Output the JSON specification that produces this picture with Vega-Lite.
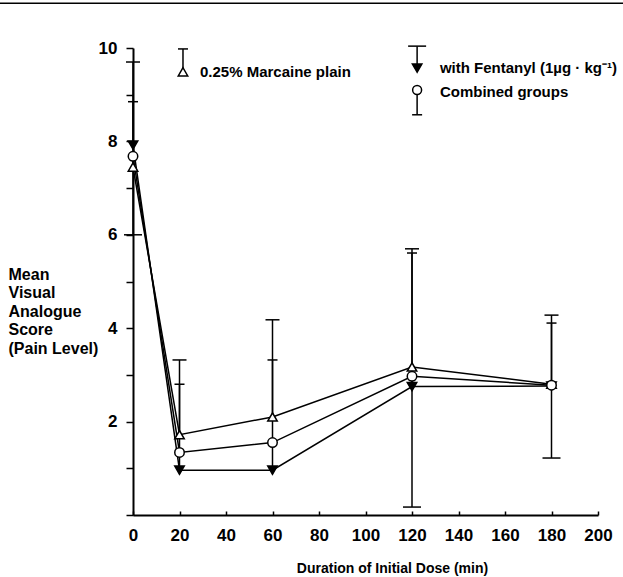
{
  "$schema": "https://vega.github.io/schema/vega-lite/v6.json",
  "width": 465,
  "height": 467,
  "autosize": {"type": "none"},
  "padding": {"left": 133, "top": 48, "right": 25, "bottom": 62},
  "background": "white",
  "config": {
    "view": {"stroke": null},
    "font": "Liberation Sans",
    "axis": {
      "grid": false,
      "domainColor": "black",
      "domainWidth": 2,
      "tickColor": "black",
      "tickWidth": 1.5,
      "labelColor": "black",
      "labelFont": "Liberation Sans",
      "labelFontSize": 17,
      "labelFontWeight": "bold",
      "titleColor": "black",
      "titleFont": "Liberation Sans",
      "titleFontWeight": "bold"
    }
  },
  "datasets": {
    "means": [
      {"t": 0, "group": "Marcaine", "mean": 7.45},
      {"t": 20, "group": "Marcaine", "mean": 1.72},
      {"t": 60, "group": "Marcaine", "mean": 2.1},
      {"t": 120, "group": "Marcaine", "mean": 3.17},
      {"t": 180, "group": "Marcaine", "mean": 2.8},
      {"t": 0, "group": "Fentanyl", "mean": 7.92},
      {"t": 20, "group": "Fentanyl", "mean": 0.96},
      {"t": 60, "group": "Fentanyl", "mean": 0.96},
      {"t": 120, "group": "Fentanyl", "mean": 2.75},
      {"t": 180, "group": "Fentanyl", "mean": 2.76},
      {"t": 0, "group": "Combined", "mean": 7.68},
      {"t": 20, "group": "Combined", "mean": 1.34},
      {"t": 60, "group": "Combined", "mean": 1.55},
      {"t": 120, "group": "Combined", "mean": 2.97},
      {"t": 180, "group": "Combined", "mean": 2.78}
    ],
    "errors": [
      {"t": 0, "group": "Marcaine", "from": 7.45, "to": 8.85},
      {"t": 20, "group": "Marcaine", "from": 1.72, "to": 2.8},
      {"t": 60, "group": "Marcaine", "from": 2.1, "to": 3.32},
      {"t": 120, "group": "Marcaine", "from": 3.17, "to": 5.61},
      {"t": 180, "group": "Marcaine", "from": 2.8, "to": 4.11},
      {"t": 0, "group": "Fentanyl", "from": 7.92, "to": 9.7},
      {"t": 20, "group": "Fentanyl", "from": 0.96, "to": 3.32},
      {"t": 60, "group": "Fentanyl", "from": 0.96, "to": 4.18},
      {"t": 120, "group": "Fentanyl", "from": 2.75, "to": 5.7},
      {"t": 180, "group": "Fentanyl", "from": 2.76, "to": 4.28},
      {"t": 0, "group": "Combined", "from": 7.68, "to": 6.0},
      {"t": 120, "group": "Combined", "from": 2.97, "to": 0.17},
      {"t": 180, "group": "Combined", "from": 2.78, "to": 1.22}
    ],
    "one": [{}]
  },
  "layer": [
    {
      "data": {"name": "errors"},
      "mark": {"type": "rule", "color": "black", "strokeWidth": 1.5},
      "encoding": {
        "x": {
          "field": "t", "type": "quantitative",
          "scale": {"domain": [0, 200], "nice": false},
          "axis": {
            "title": "Duration of Initial Dose (min)",
            "titleFontSize": 14,
            "titleX": 259,
            "titleY": 57,
            "titleBaseline": "alphabetic",
            "titleAnchor": "middle",
            "values": [0, 20, 40, 60, 80, 100, 120, 140, 160, 180, 200],
            "tickSize": -4,
            "labelPadding": 16,
            "labelFlush": false,
            "labelOverlap": false
          }
        },
        "y": {
          "field": "from", "type": "quantitative",
          "scale": {"domain": [0, 10], "nice": false},
          "axis": {
            "title": ["Mean", "Visual", "Analogue", "Score", "(Pain Level)"],
            "titleFontSize": 16,
            "titleAngle": 0,
            "titleAlign": "left",
            "titleBaseline": "top",
            "titleX": -125,
            "titleY": 218,
            "titleLineHeight": 18.5,
            "values": [0, 1, 2, 3, 4, 5, 6, 7, 8, 9, 10],
            "labelExpr": "datum.value % 2 == 0 && datum.value > 0 ? datum.label : ''",
            "tickSize": 7,
            "labelPadding": 9,
            "labelFlush": false,
            "labelOverlap": false
          }
        },
        "y2": {"field": "to"}
      }
    },
    {
      "data": {"name": "errors"},
      "mark": {"type": "tick", "orient": "horizontal", "color": "black", "thickness": 1.5, "opacity": 1},
      "encoding": {
        "x": {"field": "t", "type": "quantitative"},
        "y": {"field": "to", "type": "quantitative"},
        "size": {
          "field": "group", "type": "nominal",
          "scale": {"domain": ["Marcaine", "Fentanyl", "Combined"], "range": [10, 18, 10]},
          "legend": null
        }
      }
    },
    {
      "data": {"name": "means"},
      "mark": {"type": "line", "color": "black", "strokeWidth": 1.5},
      "encoding": {
        "x": {"field": "t", "type": "quantitative"},
        "y": {"field": "mean", "type": "quantitative"},
        "detail": {"field": "group"}
      }
    },
    {
      "data": {"name": "means"},
      "mark": {"type": "point", "stroke": "black", "strokeWidth": 1.5, "opacity": 1, "size": 90},
      "encoding": {
        "x": {"field": "t", "type": "quantitative"},
        "y": {"field": "mean", "type": "quantitative"},
        "shape": {
          "field": "group", "type": "nominal",
          "scale": {"domain": ["Marcaine", "Fentanyl", "Combined"], "range": ["triangle-up", "triangle-down", "circle"]},
          "legend": null
        },
        "fill": {
          "field": "group", "type": "nominal",
          "scale": {"domain": ["Marcaine", "Fentanyl", "Combined"], "range": ["white", "black", "white"]},
          "legend": null
        }
      }
    },
    {
      "data": {"name": "one"},
      "mark": {"type": "rule", "color": "black", "strokeWidth": 1.5},
      "encoding": {
        "x": {"datum": -58, "type": "quantitative"},
        "x2": {"datum": 212},
        "y": {"datum": 10.96, "type": "quantitative"}
      }
    },
    {
      "data": {"name": "one"},
      "mark": {"type": "rule", "color": "black", "strokeWidth": 1.5},
      "encoding": {
        "x": {"datum": 21.5, "type": "quantitative"},
        "y": {"datum": 9.49, "type": "quantitative"},
        "y2": {"datum": 9.98}
      }
    },
    {
      "data": {"name": "one"},
      "mark": {"type": "tick", "orient": "horizontal", "color": "black", "thickness": 1.5, "size": 10, "opacity": 1},
      "encoding": {
        "x": {"datum": 21.5, "type": "quantitative"},
        "y": {"datum": 9.98, "type": "quantitative"}
      }
    },
    {
      "data": {"name": "one"},
      "mark": {"type": "point", "shape": "triangle-up", "fill": "white", "stroke": "black", "strokeWidth": 1.5, "opacity": 1, "size": 90},
      "encoding": {
        "x": {"datum": 21.5, "type": "quantitative"},
        "y": {"datum": 9.49, "type": "quantitative"}
      }
    },
    {
      "data": {"name": "one"},
      "mark": {"type": "text", "align": "left", "baseline": "middle", "font": "Liberation Sans", "fontSize": 15, "fontWeight": "bold", "color": "black"},
      "encoding": {
        "x": {"datum": 28.8, "type": "quantitative"},
        "y": {"datum": 9.49, "type": "quantitative"},
        "text": {"value": "0.25% Marcaine plain"}
      }
    },
    {
      "data": {"name": "one"},
      "mark": {"type": "rule", "color": "black", "strokeWidth": 1.5},
      "encoding": {
        "x": {"datum": 122.2, "type": "quantitative"},
        "y": {"datum": 9.57, "type": "quantitative"},
        "y2": {"datum": 10.04}
      }
    },
    {
      "data": {"name": "one"},
      "mark": {"type": "tick", "orient": "horizontal", "color": "black", "thickness": 1.5, "size": 18, "opacity": 1},
      "encoding": {
        "x": {"datum": 122.2, "type": "quantitative"},
        "y": {"datum": 10.04, "type": "quantitative"}
      }
    },
    {
      "data": {"name": "one"},
      "mark": {"type": "point", "shape": "triangle-down", "fill": "black", "stroke": "black", "strokeWidth": 1.5, "opacity": 1, "size": 90},
      "encoding": {
        "x": {"datum": 122.2, "type": "quantitative"},
        "y": {"datum": 9.57, "type": "quantitative"}
      }
    },
    {
      "data": {"name": "one"},
      "mark": {"type": "text", "align": "left", "baseline": "middle", "font": "Liberation Sans", "fontSize": 15, "fontWeight": "bold", "color": "black"},
      "encoding": {
        "x": {"datum": 132, "type": "quantitative"},
        "y": {"datum": 9.57, "type": "quantitative"},
        "text": {"value": "with Fentanyl (1µg · kg⁻¹)"}
      }
    },
    {
      "data": {"name": "one"},
      "mark": {"type": "rule", "color": "black", "strokeWidth": 1.5},
      "encoding": {
        "x": {"datum": 122.2, "type": "quantitative"},
        "y": {"datum": 9.1, "type": "quantitative"},
        "y2": {"datum": 8.57}
      }
    },
    {
      "data": {"name": "one"},
      "mark": {"type": "tick", "orient": "horizontal", "color": "black", "thickness": 1.5, "size": 10, "opacity": 1},
      "encoding": {
        "x": {"datum": 122.2, "type": "quantitative"},
        "y": {"datum": 8.57, "type": "quantitative"}
      }
    },
    {
      "data": {"name": "one"},
      "mark": {"type": "point", "shape": "circle", "fill": "white", "stroke": "black", "strokeWidth": 1.5, "opacity": 1, "size": 80},
      "encoding": {
        "x": {"datum": 122.2, "type": "quantitative"},
        "y": {"datum": 9.1, "type": "quantitative"}
      }
    },
    {
      "data": {"name": "one"},
      "mark": {"type": "text", "align": "left", "baseline": "middle", "font": "Liberation Sans", "fontSize": 15, "fontWeight": "bold", "color": "black"},
      "encoding": {
        "x": {"datum": 132, "type": "quantitative"},
        "y": {"datum": 9.06, "type": "quantitative"},
        "text": {"value": "Combined groups"}
      }
    }
  ]
}
